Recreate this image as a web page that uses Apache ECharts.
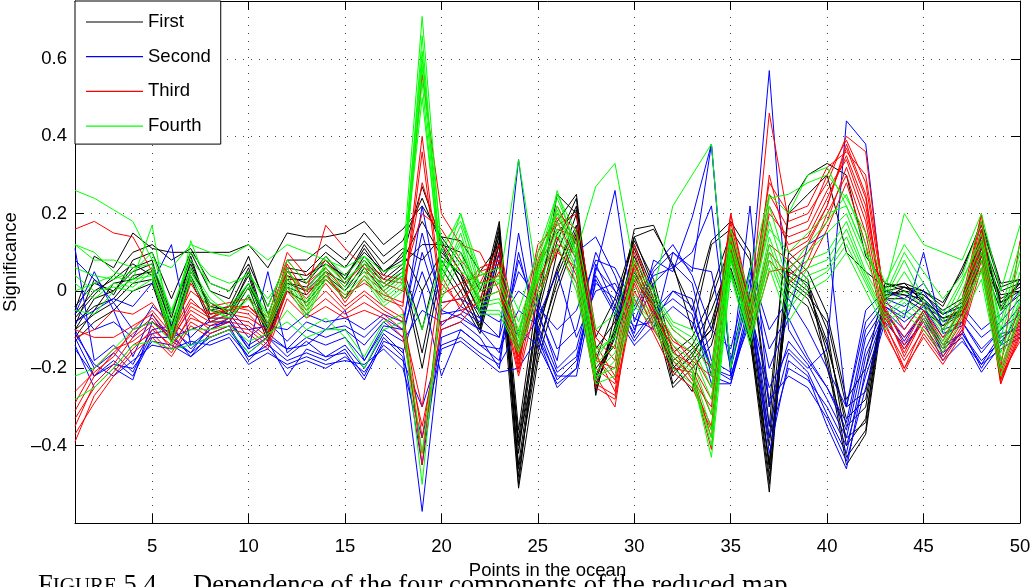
<!DOCTYPE html>
<html>
<head>
<meta charset="utf-8">
<script src="https://cdn.jsdelivr.net/npm/echarts@6/dist/echarts.min.js"></script>
<style>
html,body{margin:0;padding:0;background:#fff;}
#chart{width:1031px;height:587px;}
</style>
</head>
<body>
<div id="chart"></div>
<script>
// ---------- DATA ----------
const points = [1,2,3,4,5,6,7,8,9,10,11,12,13,14,15,16,17,18,19,20,21,22,23,24,25,26,27,28,29,30,31,32,33,34,35,36,37,38,39,40,41,42,43,44,45,46,47,48,49,50];
const xTicks = [5,10,15,20,25,30,35,40,45,50];
const yTicks = [-0.4,-0.2,0,0.2,0.4,0.6];
const groupNames = ['First','Second','Third','Fourth'];

// First (black)
const first_a = [-0.05,0.09,0.06,0.15,0.11,0.1,0.1,0.1,0.1,0.12,0.06,0.15,0.14,0.14,0.15,0.18,0.12,0.16,0.22,0.14,0.13,0.05,0.12,-0.38,-0.05,0.25,0.2,-0.15,-0.08,0.16,0.17,0.06,-0.05,0.13,0.18,0.1,-0.35,0.22,0.3,0.33,0.3,0.09,0.02,0.01,0.0,-0.03,0.05,0.18,0.02,0.03];
const first_b = [-0.1,-0.02,0.0,0.06,0.08,-0.1,0.08,-0.05,-0.06,0.05,-0.11,0.04,0.02,0.08,0.03,0.12,0.05,0.09,0.27,0.13,0.05,-0.06,0.17,-0.48,-0.12,0.1,0.22,-0.24,-0.12,0.12,0.0,-0.2,-0.15,-0.1,0.13,-0.1,-0.5,0.05,0.02,-0.1,-0.4,-0.33,0.0,0.01,-0.02,-0.07,-0.05,0.15,-0.03,0.02];
const first_c = [-0.08,-0.04,-0.02,0.04,0.05,-0.09,0.06,-0.04,-0.05,0.02,-0.1,0.02,0.01,0.06,0.01,0.09,0.03,0.07,0.12,0.12,0.02,-0.09,0.13,-0.45,-0.1,0.06,0.17,-0.22,-0.1,0.09,-0.03,-0.21,-0.17,-0.08,0.09,-0.08,-0.45,0.04,0.0,-0.13,-0.35,-0.3,-0.01,0.0,-0.03,-0.06,-0.04,0.11,-0.02,0.01];
const first_d = [-0.12,-0.05,0.02,0.03,0.06,-0.07,0.09,-0.06,-0.05,0.04,-0.12,0.03,0.03,0.09,0.03,0.11,0.04,0.1,0.0,0.1,0.04,-0.1,0.15,-0.5,-0.08,0.05,0.2,-0.26,-0.09,0.11,-0.02,-0.24,-0.18,-0.12,0.11,-0.12,-0.52,0.06,0.01,-0.16,-0.43,-0.36,0.0,-0.01,-0.02,-0.08,-0.05,0.13,-0.04,0.02];
const first_e = [-0.06,0.0,0.03,0.07,0.04,-0.11,0.05,-0.03,-0.06,0.02,-0.09,0.02,0.0,0.05,0.02,0.08,0.02,0.06,-0.1,0.11,0.02,-0.07,0.12,-0.4,-0.14,0.02,0.15,-0.2,-0.14,0.07,-0.04,-0.18,-0.14,-0.05,0.08,-0.06,-0.4,0.03,-0.01,-0.08,-0.3,-0.26,-0.02,0.01,-0.01,-0.06,-0.03,0.1,-0.01,0.0];
const first_f = [-0.04,0.02,0.0,0.05,0.07,-0.06,0.07,-0.05,-0.04,0.06,-0.1,0.05,0.04,0.07,0.04,0.1,0.05,0.08,0.18,0.09,0.04,-0.05,0.16,-0.42,-0.06,0.13,0.24,-0.27,-0.06,0.14,0.01,-0.19,-0.26,0.0,0.15,-0.04,-0.46,0.08,0.03,-0.2,-0.38,-0.34,0.01,0.02,-0.03,-0.09,-0.04,0.16,-0.05,0.03];
const first_g = [-0.1,-0.06,-0.03,0.02,0.03,-0.12,0.04,-0.07,-0.07,0.01,-0.12,0.01,-0.01,0.04,0.0,0.07,0.01,0.05,-0.16,0.08,0.0,-0.1,0.1,-0.46,-0.16,0.04,0.16,-0.23,-0.1,0.05,-0.05,-0.22,-0.16,-0.1,0.06,-0.1,-0.48,0.02,-0.02,-0.14,-0.33,-0.28,-0.01,-0.01,-0.04,-0.07,-0.06,0.09,-0.03,0.0];
const first_h = [-0.09,0.03,-0.01,0.08,0.1,-0.02,0.1,0.0,-0.02,0.09,-0.06,0.06,0.05,0.1,0.06,0.13,0.07,0.11,0.08,0.14,0.07,-0.03,0.18,-0.36,0.0,0.18,0.25,-0.18,-0.04,0.13,0.03,-0.16,-0.12,-0.02,0.12,-0.02,-0.38,0.1,0.05,-0.06,-0.28,-0.2,0.02,0.0,-0.01,-0.05,-0.02,0.14,0.0,0.02];
const first_i = [-0.13,-0.08,-0.05,0.0,0.02,-0.13,0.03,-0.08,-0.08,-0.01,-0.13,0.0,-0.03,0.03,-0.02,0.06,0.0,0.04,-0.2,0.06,-0.02,-0.11,0.08,-0.51,-0.18,0.0,0.14,-0.25,-0.11,0.04,-0.06,-0.25,-0.2,-0.14,0.05,-0.13,-0.44,0.0,-0.04,-0.18,-0.45,-0.37,-0.02,-0.02,-0.05,-0.09,-0.06,0.08,-0.05,-0.01];
const first_j = [-0.07,-0.01,0.04,0.1,0.12,0.08,0.11,0.02,0.0,0.07,-0.04,0.08,0.08,0.12,0.08,0.15,0.09,0.13,0.24,0.12,0.1,0.0,0.14,-0.4,-0.04,0.15,0.21,-0.12,-0.02,0.14,0.16,0.07,-0.1,0.12,0.16,0.08,-0.3,0.2,0.25,0.3,0.1,0.05,0.01,0.02,0.0,-0.04,0.06,0.17,0.01,0.03];

// Second (blue)
const second_a = [-0.08,-0.05,-0.02,-0.04,0.02,0.12,-0.14,-0.1,-0.08,-0.15,-0.12,-0.15,-0.14,-0.1,-0.05,-0.18,-0.09,-0.1,0.22,-0.05,-0.07,-0.1,-0.12,0.34,-0.05,-0.2,-0.15,0.05,0.26,-0.08,0.05,0.1,0.05,0.38,-0.2,0.0,0.57,-0.1,-0.18,-0.25,-0.36,-0.12,-0.04,-0.08,-0.04,-0.12,-0.08,-0.16,-0.1,-0.06];
const second_b = [-0.12,-0.22,-0.18,-0.22,-0.12,-0.12,-0.16,-0.12,-0.1,-0.17,-0.14,-0.18,-0.16,-0.18,-0.15,-0.22,-0.12,-0.17,-0.57,-0.12,-0.1,-0.14,-0.18,0.1,-0.1,-0.23,-0.18,0.02,-0.02,-0.11,0.08,0.05,0.19,0.38,-0.22,-0.05,-0.25,-0.15,-0.2,-0.15,0.44,0.38,-0.06,-0.12,-0.06,-0.15,-0.11,-0.18,-0.13,-0.08];
const second_c = [-0.14,-0.25,-0.2,-0.23,-0.08,-0.11,-0.17,-0.11,-0.09,-0.18,-0.13,-0.22,-0.15,-0.17,-0.16,-0.23,-0.13,-0.15,-0.45,-0.1,-0.08,-0.12,-0.2,0.15,-0.12,-0.25,-0.2,0.06,0.0,-0.12,-0.05,0.0,-0.02,-0.22,-0.24,-0.04,-0.42,-0.18,-0.22,-0.35,-0.46,-0.2,-0.05,-0.1,-0.03,-0.17,-0.1,-0.2,-0.12,-0.09];
const second_d = [0.11,-0.18,-0.14,-0.19,-0.1,-0.09,-0.15,-0.1,-0.07,-0.15,0.05,-0.16,-0.12,-0.14,-0.12,-0.18,-0.1,-0.13,-0.05,-0.08,-0.06,-0.1,-0.16,0.08,-0.06,-0.18,0.1,0.14,0.04,-0.1,0.02,0.07,0.02,-0.18,-0.21,0.22,-0.3,-0.13,-0.19,-0.28,-0.38,-0.15,-0.04,-0.07,0.1,-0.11,-0.09,0.12,-0.14,-0.05];
const second_e = [-0.1,-0.2,-0.16,-0.21,-0.11,-0.1,-0.14,-0.12,-0.1,-0.16,-0.12,-0.17,-0.13,-0.17,-0.14,-0.2,-0.11,-0.16,0.0,-0.22,-0.1,-0.14,-0.15,-0.05,-0.09,-0.21,-0.17,0.04,-0.05,-0.09,-0.08,0.0,-0.04,-0.2,-0.23,-0.02,-0.35,-0.16,-0.21,-0.32,-0.42,-0.17,-0.05,-0.13,-0.05,-0.14,-0.11,-0.19,-0.11,-0.1];
const second_f = [-0.06,0.05,-0.05,-0.17,-0.06,-0.13,-0.16,-0.09,-0.08,-0.14,-0.11,-0.15,-0.1,-0.12,-0.1,-0.14,-0.08,-0.12,0.1,-0.06,-0.05,-0.08,0.1,-0.15,-0.07,0.05,-0.12,0.0,0.02,-0.07,-0.1,0.1,0.06,0.05,-0.2,0.03,-0.2,-0.07,-0.17,-0.25,-0.34,-0.1,-0.03,-0.06,-0.02,-0.1,-0.08,-0.15,-0.1,-0.04];
const second_g = [-0.15,-0.22,-0.19,-0.2,-0.13,-0.14,-0.17,-0.13,-0.11,-0.17,-0.15,-0.2,-0.18,-0.2,-0.17,-0.21,-0.14,-0.18,-0.3,-0.14,-0.12,-0.16,-0.19,-0.1,-0.14,-0.24,-0.2,0.07,-0.04,-0.13,-0.06,-0.02,-0.06,-0.24,-0.24,-0.06,-0.38,-0.2,-0.23,-0.3,-0.4,-0.22,-0.07,-0.15,-0.07,-0.16,-0.12,-0.21,-0.14,-0.11];
const second_h = [0.08,0.03,-0.03,-0.1,-0.08,-0.12,-0.1,-0.08,-0.06,-0.12,-0.08,-0.13,-0.08,-0.1,-0.09,-0.12,-0.07,-0.1,0.05,-0.09,-0.04,-0.07,-0.12,0.05,-0.02,-0.15,-0.1,0.1,0.0,-0.05,0.04,0.06,0.1,0.22,-0.18,0.05,-0.15,-0.06,0.12,0.15,-0.3,-0.08,-0.02,-0.04,0.0,-0.08,-0.06,-0.12,-0.08,-0.02];
const second_i = [-0.11,-0.19,-0.22,-0.18,-0.14,-0.15,-0.13,-0.14,-0.12,-0.19,-0.16,-0.19,-0.17,-0.19,-0.18,-0.19,-0.15,-0.2,-0.38,-0.15,-0.13,-0.17,-0.21,-0.2,-0.12,-0.22,-0.22,0.03,-0.06,-0.14,-0.09,-0.04,-0.08,-0.2,-0.22,-0.08,-0.28,-0.22,-0.25,-0.33,-0.44,-0.25,-0.08,-0.14,-0.08,-0.18,-0.13,-0.19,-0.15,-0.12];
const second_j = [-0.04,-0.1,-0.08,-0.12,-0.04,-0.08,-0.12,-0.07,-0.05,-0.1,-0.09,-0.1,-0.06,-0.08,-0.07,-0.1,-0.06,-0.08,0.15,-0.03,-0.02,-0.05,-0.08,0.0,-0.04,-0.1,-0.05,0.08,0.06,-0.04,0.06,0.12,0.04,-0.1,-0.15,0.06,-0.1,-0.02,-0.1,-0.2,-0.3,-0.05,0.0,-0.02,0.02,-0.06,-0.04,-0.1,-0.06,0.0];

// Third (red)
const third_a = [0.16,0.18,0.15,0.14,0.05,-0.13,0.02,-0.06,-0.05,-0.04,-0.08,0.04,0.0,0.17,0.11,0.06,0.03,0.02,0.56,0.2,0.12,0.1,0.0,-0.17,0.05,0.22,0.12,-0.18,-0.2,0.08,-0.05,-0.12,-0.18,-0.22,0.2,-0.05,0.46,0.18,0.2,0.28,0.4,0.36,-0.05,-0.12,-0.05,-0.12,-0.05,0.2,-0.2,0.13];
const third_b = [-0.39,-0.27,-0.21,-0.15,-0.1,-0.14,-0.07,-0.09,-0.07,-0.08,-0.12,0.06,-0.04,0.02,-0.04,0.0,-0.04,-0.07,-0.45,0.02,-0.04,0.05,0.07,-0.2,0.08,0.18,0.08,-0.22,-0.3,0.03,-0.08,-0.17,-0.22,-0.41,0.14,-0.1,0.3,0.1,0.13,0.22,0.38,0.25,-0.08,-0.2,-0.09,-0.16,-0.08,0.12,-0.24,-0.1];
const third_c = [-0.35,-0.24,-0.19,-0.12,-0.08,-0.12,-0.05,-0.08,-0.06,-0.07,-0.1,0.03,-0.02,0.04,-0.02,0.03,-0.02,-0.04,0.36,-0.03,-0.02,0.02,0.04,-0.18,0.03,0.12,0.1,-0.16,-0.26,0.06,-0.07,-0.14,-0.2,-0.32,0.16,-0.07,0.2,0.14,0.16,0.26,0.34,0.2,-0.06,-0.16,-0.06,-0.14,-0.07,0.15,-0.22,-0.08];
const third_d = [-0.31,-0.22,-0.16,-0.11,-0.07,-0.13,-0.04,-0.07,-0.05,-0.06,-0.11,0.07,-0.01,0.05,-0.03,0.04,0.0,-0.05,-0.38,-0.05,0.0,0.06,0.08,-0.19,0.06,0.16,0.14,-0.14,-0.22,0.04,-0.06,-0.16,-0.19,-0.28,0.12,-0.09,0.12,0.08,0.12,0.22,0.37,0.24,-0.07,-0.15,-0.08,-0.15,-0.06,0.13,-0.21,-0.07];
const third_e = [-0.29,-0.2,-0.15,-0.13,-0.09,-0.15,-0.06,-0.1,-0.08,-0.09,-0.13,0.01,-0.05,0.0,-0.05,-0.01,-0.05,-0.08,-0.3,0.04,-0.05,-0.03,0.05,-0.17,0.0,0.1,0.06,-0.2,-0.24,0.02,-0.1,-0.18,-0.24,-0.35,0.1,-0.12,0.05,0.06,0.1,0.18,0.32,0.18,-0.09,-0.18,-0.1,-0.17,-0.09,0.1,-0.23,-0.12];
const third_f = [-0.1,-0.12,-0.12,-0.09,-0.06,-0.12,-0.03,-0.06,-0.04,-0.05,-0.09,0.08,0.02,0.06,0.0,0.05,0.02,0.0,0.28,0.12,0.05,-0.02,0.1,-0.15,0.1,0.2,0.16,-0.12,-0.18,0.1,-0.04,-0.13,-0.16,-0.25,0.18,-0.06,0.25,0.16,0.18,0.3,0.39,0.28,-0.04,-0.14,-0.05,-0.13,-0.04,0.18,-0.2,-0.06];
const third_g = [-0.33,-0.25,-0.2,-0.14,-0.11,-0.16,-0.08,-0.11,-0.09,-0.1,-0.14,0.0,-0.06,-0.02,-0.06,-0.03,-0.06,-0.1,-0.42,-0.08,-0.06,0.0,0.02,-0.21,0.02,0.14,0.04,-0.24,-0.27,0.0,-0.09,-0.2,-0.21,-0.38,0.13,-0.11,0.1,0.04,0.08,0.2,0.3,0.15,-0.1,-0.21,-0.11,-0.18,-0.1,0.08,-0.24,-0.11];
const third_h = [-0.12,-0.1,-0.05,-0.06,-0.03,-0.1,0.0,-0.04,-0.03,-0.02,-0.07,0.1,0.04,0.08,0.02,0.07,0.04,0.03,0.2,0.16,0.08,0.02,0.12,-0.12,0.12,0.17,0.2,-0.1,-0.15,0.12,-0.02,-0.1,-0.14,-0.2,0.2,-0.03,0.28,0.2,0.22,0.32,0.36,0.3,-0.02,-0.1,-0.03,-0.1,-0.02,0.2,-0.18,-0.04];
const third_i = [-0.26,-0.21,-0.17,-0.1,-0.05,-0.11,-0.02,-0.07,-0.04,-0.04,-0.09,0.05,0.0,0.03,-0.01,0.02,-0.01,-0.03,0.4,-0.01,0.02,0.04,0.06,-0.16,0.07,0.19,0.12,-0.17,-0.23,0.07,-0.05,-0.15,-0.23,-0.3,0.15,-0.08,0.22,0.12,0.14,0.24,0.35,0.22,-0.05,-0.17,-0.07,-0.15,-0.06,0.16,-0.23,-0.09];
const third_j = [-0.37,-0.29,-0.22,-0.16,-0.12,-0.17,-0.09,-0.12,-0.1,-0.11,-0.15,-0.02,-0.07,-0.04,-0.07,-0.05,-0.07,-0.12,-0.35,-0.1,-0.08,-0.02,0.0,-0.22,-0.02,0.11,0.02,-0.25,-0.28,-0.02,-0.11,-0.21,-0.25,-0.36,0.11,-0.12,0.08,0.02,0.06,0.16,0.28,0.12,-0.11,-0.2,-0.12,-0.19,-0.11,0.06,-0.22,-0.13];

// Fourth (green)
const fourth_a = [0.26,0.24,0.21,0.18,0.08,0.06,0.12,0.1,0.09,0.12,0.08,0.12,0.1,0.08,0.06,0.09,0.05,0.07,0.71,0.1,0.2,0.05,0.02,0.34,0.02,0.26,0.1,0.27,0.33,0.06,0.0,0.22,0.3,0.38,-0.2,0.05,0.25,0.2,0.3,0.32,0.22,0.1,0.0,0.2,0.12,0.1,0.08,0.2,0.0,0.17];
const fourth_b = [0.12,0.1,0.05,0.03,0.17,-0.12,0.13,0.0,-0.04,0.02,-0.06,0.06,-0.03,0.07,0.02,0.08,0.0,0.04,0.62,0.06,0.17,0.0,0.02,-0.1,0.06,0.22,0.1,-0.18,-0.1,0.03,-0.03,-0.12,-0.16,-0.28,0.12,-0.07,0.18,0.02,0.1,0.15,0.2,0.08,-0.03,0.05,-0.03,-0.1,0.0,0.12,-0.12,0.05];
const fourth_c = [0.02,-0.02,0.02,0.01,0.05,-0.14,0.04,-0.04,-0.07,-0.01,-0.09,0.02,-0.06,0.04,-0.01,0.04,-0.03,0.01,0.58,0.04,0.13,-0.03,-0.02,-0.13,0.04,0.18,0.06,-0.21,-0.16,-0.01,-0.06,-0.16,-0.2,-0.36,0.09,-0.11,0.12,-0.02,0.06,0.08,0.16,0.04,-0.06,-0.02,-0.06,-0.13,-0.03,0.08,-0.16,-0.02];
const fourth_d = [-0.05,-0.06,0.0,0.03,0.04,-0.1,0.06,-0.02,-0.06,0.01,-0.08,0.03,-0.05,0.05,0.0,0.05,-0.02,0.02,0.54,0.02,0.15,-0.02,0.0,-0.11,0.05,0.2,0.08,-0.19,-0.14,0.01,-0.04,-0.14,-0.18,-0.32,0.1,-0.09,0.14,0.0,0.08,0.1,0.18,0.05,-0.04,0.0,-0.04,-0.11,-0.02,0.1,-0.14,0.0];
const fourth_e = [-0.28,-0.25,-0.2,-0.14,-0.13,-0.15,-0.14,-0.12,-0.1,-0.16,-0.12,-0.05,-0.1,-0.07,-0.12,-0.2,-0.1,-0.08,-0.5,0.0,0.1,-0.05,-0.05,-0.15,0.0,0.15,0.02,-0.22,-0.2,-0.03,-0.08,-0.18,-0.22,-0.43,0.05,-0.12,0.08,-0.05,0.02,0.05,0.12,0.02,-0.08,-0.05,-0.08,-0.15,-0.05,0.05,-0.2,-0.05];
const fourth_f = [0.0,0.02,0.04,0.02,0.06,-0.08,0.05,-0.03,-0.05,0.02,-0.07,0.04,-0.04,0.06,0.01,0.06,-0.01,0.03,-0.1,0.08,0.05,0.02,0.03,-0.12,0.08,0.24,0.12,-0.16,-0.12,0.04,-0.02,-0.1,-0.14,-0.25,0.14,-0.05,0.22,0.05,0.12,0.18,0.25,0.12,-0.02,0.08,-0.02,-0.08,0.02,0.15,-0.1,0.08];
const fourth_g = [0.04,0.0,0.01,0.0,0.03,-0.11,0.03,-0.05,-0.07,-0.02,-0.1,0.01,-0.07,0.03,-0.02,0.03,-0.04,0.0,0.66,0.03,0.12,-0.04,-0.03,-0.14,0.03,0.16,0.05,-0.23,-0.18,-0.02,-0.07,-0.17,-0.21,-0.4,0.08,-0.12,0.1,-0.04,0.04,0.06,0.14,0.03,-0.07,-0.03,-0.07,-0.14,-0.04,0.06,-0.18,-0.03];
const fourth_h = [0.12,0.08,0.08,0.06,0.07,-0.05,0.08,0.02,0.0,0.05,-0.04,0.08,0.02,0.09,0.04,0.09,0.02,0.05,0.6,0.12,0.18,0.04,0.06,-0.05,0.1,0.25,0.15,-0.1,-0.06,0.08,0.0,-0.08,-0.1,-0.2,0.16,-0.02,0.24,0.25,0.28,0.3,0.24,0.15,0.02,0.12,0.05,-0.02,0.04,0.18,-0.05,0.12];
const fourth_i = [-0.22,-0.2,-0.15,-0.1,-0.08,-0.13,-0.1,-0.1,-0.09,-0.13,-0.11,-0.08,-0.12,-0.1,-0.1,-0.17,-0.08,-0.06,-0.42,-0.02,0.08,-0.06,-0.06,-0.16,-0.02,0.12,0.0,-0.24,-0.22,-0.04,-0.09,-0.2,-0.24,-0.38,0.04,-0.14,0.06,-0.08,0.0,0.03,0.1,0.0,-0.1,-0.06,-0.1,-0.16,-0.07,0.03,-0.22,-0.06];
const fourth_j = [0.06,0.04,0.03,0.05,0.1,-0.06,0.1,0.04,0.02,0.04,-0.02,0.05,0.0,0.07,0.03,0.07,0.01,0.04,0.5,0.05,0.2,0.01,0.04,-0.08,0.06,0.21,0.09,-0.15,-0.12,0.05,-0.01,-0.09,-0.12,-0.22,0.12,-0.04,0.16,0.1,0.15,0.2,0.22,0.1,-0.01,0.1,0.02,-0.06,0.03,0.13,-0.08,0.1];

// ---------- BUILD ----------
const groups = [
  {name: groupNames[0], color: '#000000', lines: [first_a, first_b, first_c, first_d, first_e, first_f, first_g, first_h, first_i, first_j]},
  {name: groupNames[1], color: '#0000ff', lines: [second_a, second_b, second_c, second_d, second_e, second_f, second_g, second_h, second_i, second_j]},
  {name: groupNames[2], color: '#ff0000', lines: [third_a, third_b, third_c, third_d, third_e, third_f, third_g, third_h, third_i, third_j]},
  {name: groupNames[3], color: '#00ff00', lines: [fourth_a, fourth_b, fourth_c, fourth_d, fourth_e, fourth_f, fourth_g, fourth_h, fourth_i, fourth_j]}
];

const series = [];
groups.forEach(g => {
  g.lines.forEach(arr => {
    series.push({
      type: 'line',
      name: g.name,
      data: points.map((p, i) => [p, arr[i]]),
      symbol: 'none',
      showSymbol: false,
      color: g.color,
      itemStyle: {color: g.color},
      lineStyle: {color: g.color, width: 1},
      animation: false,
      silent: true,
      z: 3
    });
  });
});

const FONT = '"Liberation Sans", Arial, Helvetica, sans-serif';
const SERIF = '"Liberation Serif", "Times New Roman", serif';
const gridStyle = {show: true, lineStyle: {color: '#000', width: 1, type: [1, 7], opacity: 0.75}};
const fmtY = v => (v < 0 ? '\u2013' + String(Math.round(-v * 10) / 10) : String(Math.round(v * 10) / 10));

const chart = echarts.init(document.getElementById('chart'), null, {renderer: 'canvas'});
chart.setOption({
  animation: false,
  backgroundColor: '#ffffff',
  grid: {left: 75, right: 11, top: 1, bottom: 64, containLabel: false, outerBoundsMode: 'none'},
  legend: {
    data: groupNames,
    orient: 'vertical',
    left: 75, top: 1,
    backgroundColor: '#ffffff',
    borderColor: '#000000', borderWidth: 1, borderRadius: 0,
    padding: [11, 10, 8, 11],
    icon: 'rect',
    itemWidth: 57, itemHeight: 1.2, itemGap: 14.7,
    textStyle: {fontFamily: FONT, fontSize: 18.5, color: '#000', lineHeight: 20},
    z: 10
  },
  xAxis: [
    {
      type: 'value', min: 1, max: 50, position: 'bottom',
      axisLine: {show: true, onZero: false, lineStyle: {color: '#000', width: 1}},
      axisTick: {show: true, inside: true, length: 9, customValues: xTicks, lineStyle: {color: '#000'}},
      axisLabel: {show: true, customValues: xTicks, margin: 14, fontFamily: FONT, fontSize: 18.5, color: '#000'},
      splitLine: gridStyle,
      name: 'Points in the ocean', nameLocation: 'middle', nameGap: 38,
      nameTextStyle: {fontFamily: FONT, fontSize: 18.5, color: '#000'}
    },
    {
      type: 'value', min: 1, max: 50, position: 'top',
      axisLine: {show: true, onZero: false, lineStyle: {color: '#000', width: 1}},
      axisTick: {show: true, inside: true, length: 9, customValues: xTicks, lineStyle: {color: '#000'}},
      axisLabel: {show: false},
      splitLine: {show: false}
    }
  ],
  yAxis: [
    {
      type: 'value', min: -0.6, max: 0.75, position: 'left',
      axisLine: {show: true, onZero: false, lineStyle: {color: '#000', width: 1}},
      axisTick: {show: true, inside: true, length: 9, customValues: yTicks, lineStyle: {color: '#000'}},
      axisLabel: {show: true, customValues: yTicks, margin: 8, formatter: fmtY, fontFamily: FONT, fontSize: 18.5, color: '#000'},
      splitLine: gridStyle,
      name: 'Significance', nameLocation: 'middle', nameGap: 48, nameRotate: 90,
      nameTextStyle: {fontFamily: FONT, fontSize: 18.5, color: '#000'}
    },
    {
      type: 'value', min: -0.6, max: 0.75, position: 'right',
      axisLine: {show: true, onZero: false, lineStyle: {color: '#000', width: 1}},
      axisTick: {show: true, inside: true, length: 9, customValues: yTicks, lineStyle: {color: '#000'}},
      axisLabel: {show: false},
      splitLine: {show: false}
    }
  ],
  graphic: [
    {
      type: 'text', left: 38, top: 573, z: -1, silent: true,
      style: {
        text: '{a|F}{b|IGURE}{a| 5.4}',
        rich: {
          a: {fontFamily: SERIF, fontSize: 26.5, fill: '#000'},
          b: {fontFamily: SERIF, fontSize: 21, fill: '#000'}
        },
        fill: '#000'
      }
    },
    {
      type: 'text', left: 193, top: 573, z: -1, silent: true,
      style: {
        text: 'Dependence of the four components of the reduced map',
        font: '26.5px ' + SERIF,
        fill: '#000'
      }
    }
  ],
  series: series
});
</script>
</body>
</html>
